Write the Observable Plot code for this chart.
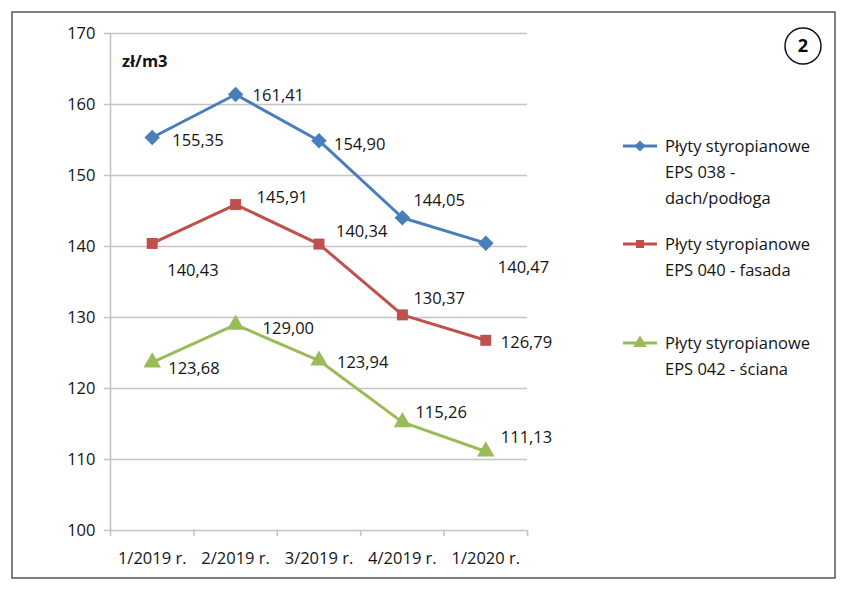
<!DOCTYPE html>
<html>
<head>
<meta charset="utf-8">
<script src="https://cdn.jsdelivr.net/npm/d3@7"></script>
<script src="https://cdn.jsdelivr.net/npm/@observablehq/plot@0.6"></script>
<style>
  html, body { margin: 0; padding: 0; background: #fff; }
  #chart { width: 851px; height: 593px; }
  svg { font-family: "Open Sans", sans-serif; }
</style>
</head>
<body>
<div id="chart"></div>
<script>
// ---- data ----
const categories = ["1/2019 r.", "2/2019 r.", "3/2019 r.", "4/2019 r.", "1/2020 r."];
const seriesNames = [
  ["Płyty styropianowe", "EPS 038 -", "dach/podłoga"],
  ["Płyty styropianowe", "EPS 040 - fasada"],
  ["Płyty styropianowe", "EPS 042 - ściana"]
];
const eps038 = [155.35, 161.41, 154.90, 144.05, 140.47];
const eps040 = [140.43, 145.91, 140.34, 130.37, 126.79];
const eps042 = [123.68, 129.00, 123.94, 115.26, 111.13];
const yTicks = [100, 110, 120, 130, 140, 150, 160, 170];
const unitLabel = "zł/m3";
const badge = "2";

// ---- styling ----
const colors = ["#4a7ebb", "#c0504d", "#9bbb59"];
const symbols = ["diamond2", "square", "triangle"];
const radii = [7, 6.2, 6.5];
const legendRadii = [5, 4.5, 5];
const seriesValues = [eps038, eps040, eps042];
const textColor = "#141414";

// label offsets (dx, dy) per series/point
const labelOffsets = [
  [[20, 3], [17, 1], [15, 4], [11, -17], [12, 25]],
  [[15, 27], [21, -7], [17, -12], [11, -16], [15, 2]],
  [[16, 6], [27, 4], [18, 2], [13, -9], [15, -14]]
];

const rows = [];
seriesValues.forEach((vals, s) => vals.forEach((v, i) => rows.push({s, i, v})));
const fmt = v => v.toFixed(2).replace(".", ",");

const marks = [
  Plot.gridY(yTicks, {stroke: "#c4c4c4", strokeOpacity: 1, strokeWidth: 1.6, x1: -0.5 - 0.072, x2: 4.5}),
  Plot.ruleX([-0.5], {stroke: "#c4c4c4", strokeWidth: 1.6}),
  Plot.axisY(yTicks, {tickSize: 0, tickPadding: 15, fontSize: 16.5, fill: textColor, tickFormat: d => d, label: null}),
  Plot.axisX(d3.range(-0.5, 5, 1), {tickSize: 6, stroke: "#c4c4c4", strokeWidth: 1.6, tickFormat: () => "", tickPadding: 0, label: null}),
  Plot.axisX(d3.range(categories.length), {tickSize: 0, tickPadding: 22, fontSize: 16.5, fill: textColor, tickFormat: i => categories[i], label: null})
];
seriesValues.forEach((vals, s) => {
  const d = vals.map((v, i) => ({i, v}));
  marks.push(Plot.line(d, {x: "i", y: "v", stroke: colors[s], strokeWidth: 3}));
  marks.push(Plot.dot(d, {x: "i", y: "v", symbol: () => symbols[s], fill: colors[s], r: radii[s], stroke: "none"}));
});
rows.forEach(r => {
  const [dx, dy] = labelOffsets[r.s][r.i];
  marks.push(Plot.text([r], {x: "i", y: "v", text: d => fmt(d.v), dx, dy, textAnchor: "start", fontSize: 16.5, fill: textColor}));
});

const plot = Plot.plot({
  width: 851,
  height: 593,
  marginLeft: 110,
  marginRight: 324,
  marginTop: 33,
  marginBottom: 63,
  x: {domain: [-0.5, 4.5], axis: null},
  y: {domain: [100, 170], axis: null},
  style: {fontFamily: "Open Sans, sans-serif", overflow: "visible"},
  marks
});
document.getElementById("chart").appendChild(plot);

// ---- decorations: frame, unit label, badge, legend ----
const svg = d3.select(plot);
svg.insert("rect", ":first-child")
  .attr("x", 12).attr("y", 12).attr("width", 823).attr("height", 566)
  .attr("fill", "none").attr("stroke", "#555").attr("stroke-width", 1.5);
svg.append("text").attr("x", 122).attr("y", 67).attr("text-anchor", "start").text(unitLabel)
  .attr("font-size", 16.5).attr("font-weight", "bold").attr("fill", textColor);
svg.append("circle").attr("cx", 803).attr("cy", 46).attr("r", 18)
  .attr("fill", "none").attr("stroke", "#111").attr("stroke-width", 1.5);
svg.append("text").attr("x", 803).attr("y", 46).attr("dy", "0.36em")
  .attr("text-anchor", "middle").attr("font-size", 18).attr("font-weight", "bold").text(badge);

const legendY = [146, 244, 343];
const lineGap = 26;
seriesNames.forEach((lines, s) => {
  const g = svg.append("g").attr("transform", `translate(0,${legendY[s]})`);
  g.append("line").attr("x1", 623).attr("x2", 657).attr("y1", 0).attr("y2", 0)
    .attr("stroke", colors[s]).attr("stroke-width", 3);
  const sym = {diamond2: d3.symbolDiamond2, square: d3.symbolSquare, triangle: d3.symbolTriangle}[symbols[s]];
  g.append("path").attr("transform", "translate(640,0)")
    .attr("d", d3.symbol(sym, Math.PI * legendRadii[s] * legendRadii[s])()).attr("fill", colors[s]);
  lines.forEach((t, k) => {
    g.append("text").attr("x", 665).attr("y", k * lineGap).attr("dy", "0.35em")
      .attr("text-anchor", "start").attr("font-size", 16.5).attr("fill", textColor).text(t);
  });
});
</script>
</body>
</html>
